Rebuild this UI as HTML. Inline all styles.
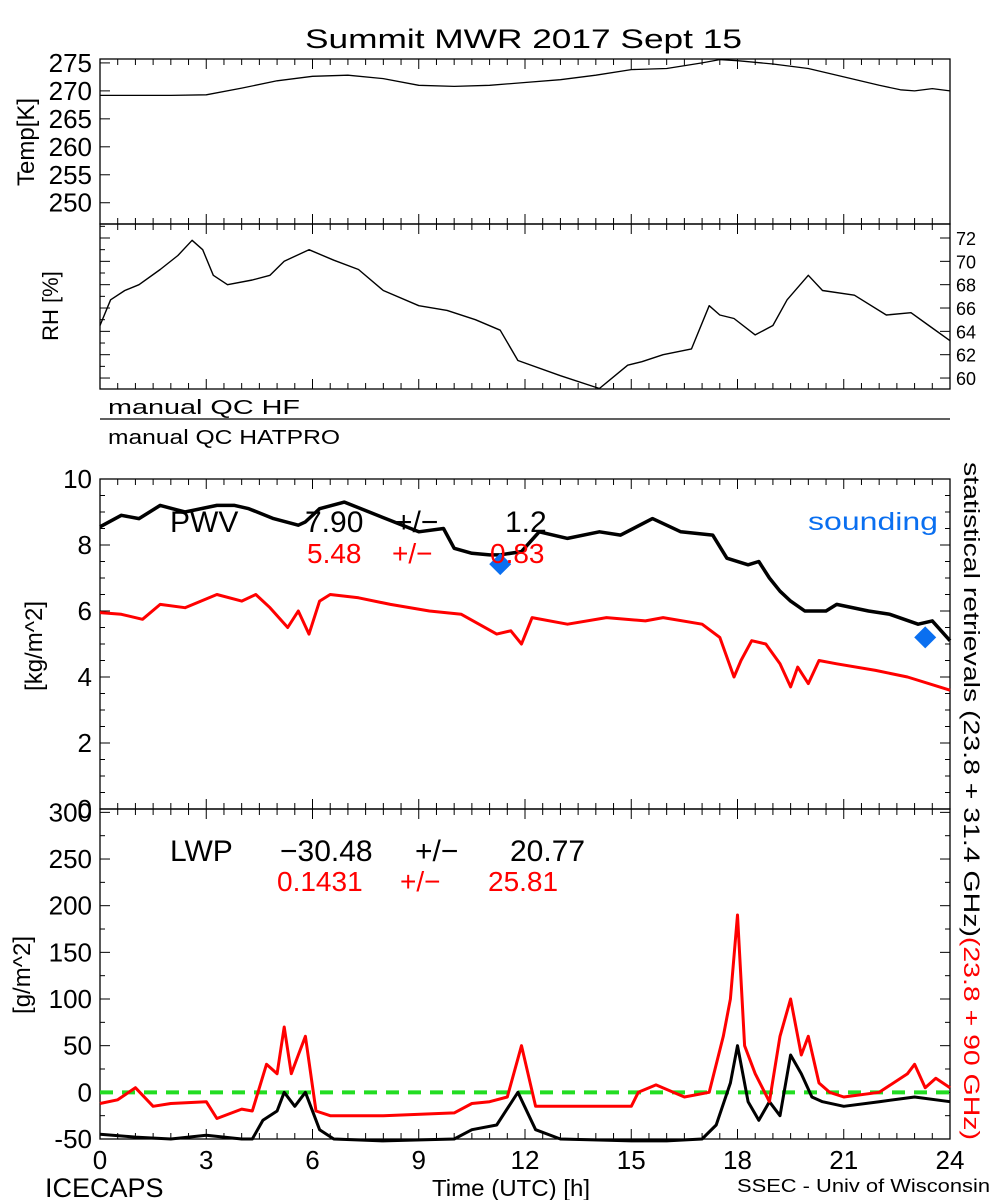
<!DOCTYPE html>
<html><head><meta charset="utf-8"><style>
html,body{margin:0;padding:0;background:#fff}
svg{display:block;font-family:"Liberation Sans",sans-serif}
</style></head><body>
<svg id="c" width="1000" height="1200" viewBox="0 0 1000 1200">
<text x="305" y="48" font-size="27" textLength="437" lengthAdjust="spacingAndGlyphs">Summit MWR 2017 Sept 15</text>
<g id="g"></g>
</svg>
<script>
const hoursTicks=[0,3,6,9,12,15,18,21,24];
const tempTicks=[250,255,260,265,270,275];
const rhTicks=[60,62,64,66,68,70,72];
const pwvTicks=[0,2,4,6,8,10];
const lwpTicks=[-50,0,50,100,150,200,250,300];
const tempH=[0,1,2,3,4,5,6,7,8,9,10,11,12,13,14,15,16,17,17.5,18,19,20,21,22,22.6,23,23.5,24];
const tempV=[269.2,269.2,269.2,269.3,270.5,271.8,272.6,272.8,272.2,271,270.8,271,271.5,272,272.8,273.8,274,275,275.6,275.4,274.8,274,272.5,271,270.2,270,270.4,270];
const rhH=[0,0.3,0.7,1.1,1.7,2.2,2.6,2.9,3.2,3.6,4.3,4.8,5.2,5.9,6.6,7.3,8.0,9.0,9.8,10.6,11.3,11.8,13,14.1,14.9,15.3,15.9,16.7,17.2,17.5,17.9,18.5,19.0,19.4,20.0,20.4,21.3,22.2,22.9,23.4,24];
const rhV=[64.5,66.7,67.5,68,69.3,70.5,71.8,71,68.8,68,68.4,68.8,70,71,70.1,69.3,67.5,66.2,65.8,65,64.1,61.5,60.2,59.1,61.1,61.4,62,62.5,66.2,65.4,65.1,63.7,64.5,66.7,68.8,67.5,67.1,65.4,65.6,64.5,63.2];
const pwvH=[0,0.6,1.1,1.7,2.4,3.3,3.8,4.2,4.9,5.6,5.8,6.2,6.9,7.6,8.3,9.0,9.7,10.0,10.5,11.0,11.3,11.9,12.4,13.2,14.1,14.7,15.6,16.4,17.3,17.7,18.3,18.6,18.9,19.2,19.5,19.9,20.5,20.8,21.7,22.3,23.1,23.5,24];
const pwvV=[8.55,8.9,8.8,9.2,9.0,9.2,9.2,9.1,8.8,8.6,8.7,9.1,9.3,9.0,8.7,8.4,8.5,7.9,7.75,7.7,7.7,7.8,8.4,8.2,8.4,8.3,8.8,8.4,8.3,7.6,7.4,7.5,7.0,6.6,6.3,6.0,6.0,6.2,6.0,5.9,5.6,5.7,5.1];
const pwv2H=[0,0.6,1.2,1.7,2.4,3.3,4.0,4.4,4.8,5.3,5.6,5.9,6.2,6.5,7.3,8.2,9.3,10.2,10.7,11.2,11.6,11.9,12.2,13.2,14.3,15.4,15.9,17.0,17.5,17.9,18.1,18.4,18.8,19.2,19.5,19.7,20.0,20.3,20.8,21.9,22.8,24];
const pwv2V=[5.95,5.9,5.75,6.2,6.1,6.5,6.3,6.5,6.1,5.5,6.0,5.3,6.3,6.5,6.4,6.2,6.0,5.9,5.6,5.3,5.4,5.0,5.8,5.6,5.8,5.7,5.8,5.6,5.2,4.0,4.5,5.1,5.0,4.4,3.7,4.3,3.8,4.5,4.4,4.2,4.0,3.6];
const lwpH=[0,1,2,3,4,4.3,4.6,5.0,5.2,5.5,5.8,6.2,6.6,8,10,10.5,11.2,11.8,12.3,13,15,16,17,17.4,17.8,18,18.3,18.6,18.9,19.2,19.5,19.8,20.1,20.4,21,22,23,24];
const lwpV=[-45,-48,-50,-46,-50,-50,-30,-20,0,-15,0,-40,-50,-52,-50,-40,-35,0,-40,-50,-52,-52,-50,-35,10,50,-10,-30,-10,-25,40,20,-5,-10,-15,-10,-5,-10];
const lwp2H=[0,0.5,1,1.5,2,3,3.3,4,4.3,4.7,5.0,5.2,5.4,5.6,5.8,6.1,6.5,8,10,10.5,11,11.5,11.9,12.3,13,15,15.2,15.7,16.5,17.2,17.6,17.8,18.0,18.2,18.5,18.9,19.2,19.5,19.8,20.0,20.3,20.6,21,22,22.8,23,23.3,23.6,24];
const lwp2V=[-12,-8,5,-15,-12,-10,-28,-18,-20,30,20,70,20,40,60,-20,-25,-25,-22,-12,-10,-5,50,-15,-15,-15,0,8,-5,0,60,100,190,50,20,-10,60,100,40,60,10,0,-5,0,20,30,5,15,5];
const soundH=[11.3,23.3];
const soundV=[7.42,5.2];

const NS="http://www.w3.org/2000/svg";
const g=document.getElementById('g');
function mk(tag,attrs,parent){const e=document.createElementNS(NS,tag);for(const k in attrs)e.setAttribute(k,attrs[k]);(parent||g).appendChild(e);return e;}
const X0=100,X1=950;
const xs=h=>X0+(X1-X0)*h/24;
function ys(top,bot,lo,hi){return v=>bot-(v-lo)/(hi-lo)*(bot-top);}
const P={
 temp:{top:59,bot:224,lo:246.2,hi:275.7},
 rh:{top:224,bot:389,lo:59.06,hi:73.2},
 pwv:{top:479,bot:809,lo:0,hi:10},
 lwp:{top:809,bot:1139,lo:-50,hi:303.6}
};
for(const k in P){P[k].y=ys(P[k].top,P[k].bot,P[k].lo,P[k].hi);}

function frame(p,name){
 const r=mk('rect',{x:X0,y:p.top,width:X1-X0,height:p.bot-p.top,fill:'none',stroke:'#000','stroke-width':1.3});
 
 
 for(let h=0;h<=24;h+=0.5){
  const maj=(h%3===0);const L=maj?10:6;const x=xs(h);
  mk('line',{x1:x,y1:p.top,x2:x,y2:p.top+L,stroke:'#000','stroke-width':1});
  mk('line',{x1:x,y1:p.bot,x2:x,y2:p.bot-L,stroke:'#000','stroke-width':1});
 }
}
function yticks(p,ticks,minorStep,side,labels){
 const lo=p.lo,hi=p.hi;
 const start=Math.ceil(lo/minorStep)*minorStep;
 for(let v=start;v<=hi;v+=minorStep){
  const y=p.y(v);const maj=ticks.some(t=>Math.abs(t-v)<1e-6);const L=maj?10:5;
  if(side==='left'){mk('line',{x1:X0,y1:y,x2:X0+L,y2:y,stroke:'#000'});}
  else{mk('line',{x1:X1,y1:y,x2:X1-L,y2:y,stroke:'#000'});}
 }
 if(labels){ticks.forEach(t=>{
  const y=p.y(t);
  const tx=mk('text',{x:side==='left'?92:956,y:y+(side==='left'?9:7),'font-size':side==='left'?26:18,'text-anchor':side==='left'?'end':'start'});
  tx.textContent=t;
  
  
 });}
}
function line(p,H,V,color,w,name){
 const pts=H.map((h,i)=>xs(h).toFixed(1)+','+p.y(V[i]).toFixed(1)).join(' ');
 const e=mk('polyline',{points:pts,fill:'none',stroke:color,'stroke-width':w,'stroke-linejoin':'round'});
 
 
}
frame(P.temp,'temp-panel');yticks(P.temp,tempTicks,5,'left',true);
line(P.temp,tempH,tempV,'#000',1.3,'temp-line');
frame(P.rh,'rh-panel');yticks(P.rh,rhTicks,1,'left',false);yticks(P.rh,rhTicks,2,'right',true);
line(P.rh,rhH,rhV,'#000',1.4,'rh-line');
frame(P.pwv,'pwv-panel');yticks(P.pwv,pwvTicks,0.5,'left',true);yticks(P.pwv,pwvTicks,0.5,'right',false);
line(P.pwv,pwvH,pwvV,'#000',3.5,'pwv-statistical-line');
line(P.pwv,pwv2H,pwv2V,'#f00',3,'pwv-hf-line');
soundH.forEach((h,i)=>{const x=xs(h),y=P.pwv.y(soundV[i]);
 const d=mk('polygon',{points:`${x},${y-11} ${x+11},${y} ${x},${y+11} ${x-11},${y}`,fill:'#0a6ff0'});
 
 });
frame(P.lwp,'lwp-panel');yticks(P.lwp,lwpTicks,25,'left',true);yticks(P.lwp,lwpTicks,25,'right',false);
const z=mk('line',{x1:X0,y1:P.lwp.y(0),x2:X1,y2:P.lwp.y(0),stroke:'#22dd22','stroke-width':4,'stroke-dasharray':'13,9'});


line(P.lwp,lwpH,lwpV,'#000',3,'lwp-statistical-line');
line(P.lwp,lwp2H,lwp2V,'#f00',3,'lwp-hf-line');
hoursTicks.forEach(h=>{const t=mk('text',{x:xs(h),y:1169,'font-size':26,'text-anchor':'middle'});t.textContent=h;
 
 });
</script>
<svg width="1000" height="1200" style="position:absolute;left:0;top:0">
<g font-family="Liberation Sans, sans-serif">
<text transform="translate(34,142) rotate(-90)" font-size="24" text-anchor="middle">Temp[K]</text>
<text transform="translate(58,306) rotate(-90)" font-size="22" text-anchor="middle">RH [%]</text>
<text x="108" y="414" font-size="20" textLength="192" lengthAdjust="spacingAndGlyphs">manual QC HF</text>
<line x1="100" y1="419" x2="950" y2="419" stroke="#000" stroke-width="1.3"/>
<text x="108" y="444" font-size="20" textLength="232" lengthAdjust="spacingAndGlyphs">manual QC HATPRO</text>
<text transform="translate(42,646) rotate(-90)" font-size="24" text-anchor="middle">[kg/m^2]</text>
<text transform="translate(30,975) rotate(-90)" font-size="24" text-anchor="middle">[g/m^2]</text>
<g font-size="30">
<text x="170" y="532">PWV</text><text x="305" y="532">7.90</text><text x="395" y="532">+/−</text><text x="505" y="532">1.2</text></g>
<g font-size="28" fill="#f00">
<text x="307" y="563">5.48</text><text x="392" y="563">+/−</text><text x="490" y="563">0.83</text></g>
<text x="808" y="530" font-size="25" fill="#0a6ff0" textLength="130" lengthAdjust="spacingAndGlyphs">sounding</text>
<g font-size="30">
<text x="170" y="861">LWP</text><text x="280" y="861">−30.48</text><text x="415" y="861">+/−</text><text x="510" y="861">20.77</text></g>
<g font-size="28" fill="#f00">
<text x="277" y="891">0.1431</text><text x="400" y="891">+/−</text><text x="488" y="891">25.81</text></g>
<text transform="translate(964,462) rotate(90)" font-size="22" textLength="678" lengthAdjust="spacingAndGlyphs"><tspan fill="#000">statistical retrievals (23.8 + 31.4 GHz)</tspan><tspan fill="#f00">(23.8 + 90 GHz)</tspan></text>
<text x="45" y="1197" font-size="27">ICECAPS</text>
<text x="432" y="1196" font-size="23" textLength="158" lengthAdjust="spacingAndGlyphs">Time (UTC) [h]</text>
<text x="737" y="1192" font-size="18" textLength="253" lengthAdjust="spacingAndGlyphs">SSEC - Univ of Wisconsin</text>
</g></svg>
</body></html>
